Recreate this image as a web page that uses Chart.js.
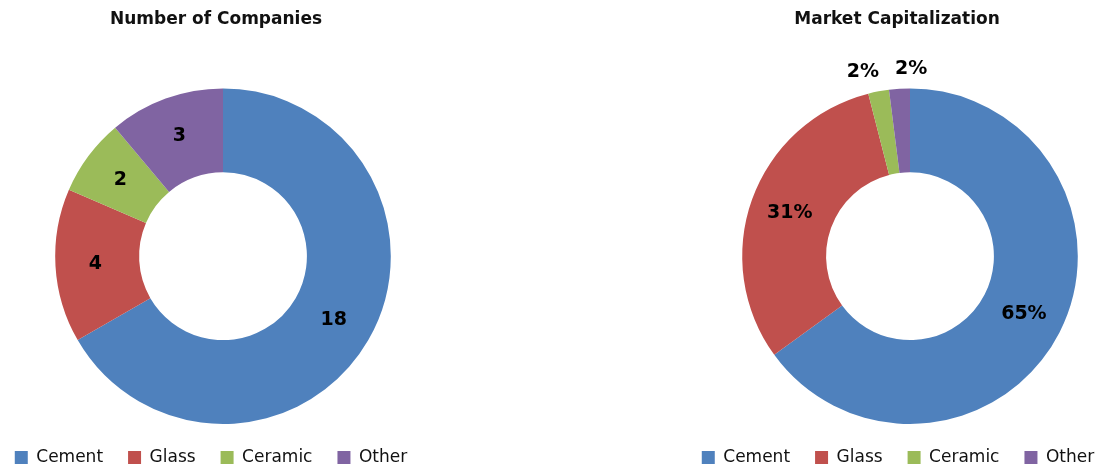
<!DOCTYPE html>
<html>
<head>
<meta charset="utf-8">
<script src="https://cdn.jsdelivr.net/npm/chart.js@4.4.1/dist/chart.umd.min.js"></script>
<style>
  html, body { margin: 0; padding: 0; background: #fff; overflow: hidden; }
  #wrap { position: relative; width: 1102px; height: 468px; overflow: hidden; }
  canvas { position: absolute; top: 0; }
  #leftChart { left: 0px; }
  #rightChart { left: 680px; }
</style>
</head>
<body>
<div id="wrap">
  <canvas id="leftChart" width="446" height="468"></canvas>
  <canvas id="rightChart" width="460" height="468"></canvas>
</div>
<script>
// chart data
var categories = ['Cement', 'Glass', 'Ceramic', 'Other'];
var companyCounts = [18, 4, 2, 3];
var marketCapShare = [65, 31, 2, 2];

var sliceColors = ['#4F81BD', '#C0504D', '#9BBB59', '#8064A2'];
var fontFamily = '"DejaVu Sans", sans-serif';

// draws the value of each slice on (or just outside) the ring
var sliceLabels = {
  id: 'sliceLabels',
  afterDatasetsDraw: function (chart, args, opts) {
    var ctx = chart.ctx;
    var meta = chart.getDatasetMeta(0);
    var values = chart.data.datasets[0].data;
    ctx.save();
    ctx.font = 'bold 19px ' + fontFamily;
    ctx.fillStyle = '#000';
    ctx.textAlign = 'center';
    ctx.textBaseline = 'middle';
    meta.data.forEach(function (arc, i) {
      var p = arc.getProps(['x', 'y', 'startAngle', 'endAngle', 'innerRadius', 'outerRadius'], true);
      var mid = (p.startAngle + p.endAngle) / 2;
      var r = (p.innerRadius + p.outerRadius) / 2 + 2;
      var dx = 0;
      if (opts.outside && opts.outside[i] !== null) {
        r = p.outerRadius + 20;
        dx = opts.outside[i];
      }
      ctx.fillText(values[i] + (opts.suffix || ''), p.x + Math.cos(mid) * r + dx, p.y + Math.sin(mid) * r);
    });
    ctx.restore();
  }
};

// nudge title and legend sideways, the way the original sits them
var boxShift = {
  id: 'boxShift',
  afterLayout: function (chart, args, opts) {
    if (chart.titleBlock) {
      chart.titleBlock.left += opts.title;
      chart.titleBlock.right += opts.title;
    }
    if (chart.legend) {
      chart.legend.left += opts.legend;
      chart.legend.right += opts.legend;
    }
  }
};

function makeDoughnut(id, title, values, pluginOpts) {
  var ctx = document.getElementById(id).getContext('2d');
  return new Chart(ctx, {
    type: 'doughnut',
    data: {
      labels: categories,
      datasets: [{
        data: values,
        backgroundColor: sliceColors,
        borderWidth: 0
      }]
    },
    options: {
      responsive: false,
      animation: false,
      cutout: '50%',
      layout: { padding: { top: 0, bottom: -8, left: 0, right: 0 } },
      plugins: {
        title: {
          display: true,
          text: title,
          color: '#111',
          font: { family: fontFamily, size: 17, weight: 'bold' },
          padding: { top: 9, bottom: 59 }
        },
        legend: {
          position: 'bottom',
          labels: {
            color: '#111',
            boxWidth: 13,
            boxHeight: 13,
            padding: 25,
            font: { family: fontFamily, size: 17 }
          }
        },
        tooltip: { enabled: false },
        sliceLabels: pluginOpts.labels,
        boxShift: pluginOpts.shift
      }
    },
    plugins: [sliceLabels, boxShift]
  });
}

document.addEventListener('DOMContentLoaded', function () {
  makeDoughnut('leftChart', 'Number of Companies', companyCounts, {
    labels: { suffix: '' },
    shift: { title: -7, legend: -12 }
  });
  makeDoughnut('rightChart', 'Market Capitalization', marketCapShare, {
    labels: { suffix: '%', outside: [null, null, -12, 13] },
    shift: { title: -13, legend: -12 }
  });
});
</script>
</body>
</html>
